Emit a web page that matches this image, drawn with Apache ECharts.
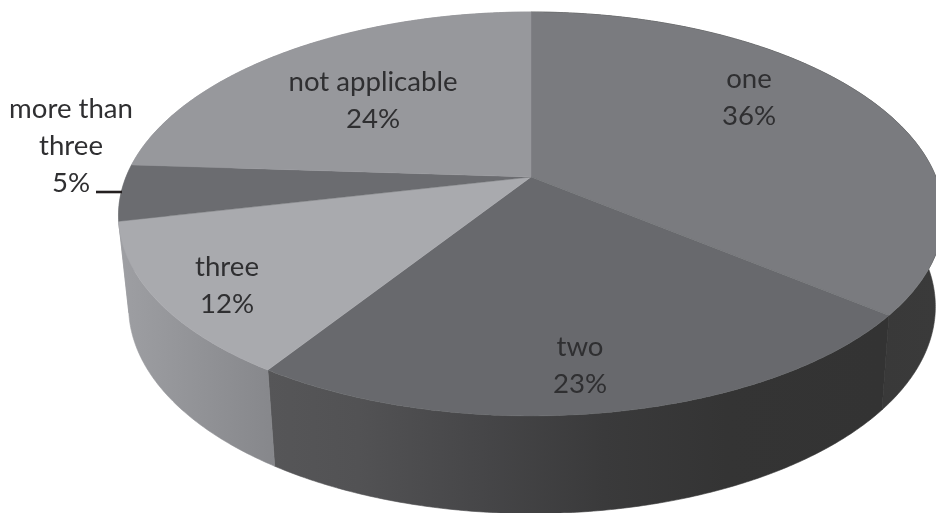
<!DOCTYPE html>
<html><head><meta charset="utf-8">
<style>html,body{margin:0;padding:0;background:#fff}#c{width:936px;height:513px}</style>
<script src="https://cdn.jsdelivr.net/npm/echarts@6/dist/echarts.min.js"></script>
</head><body><div id="c"></div>
<script>
const categories = ['one', 'two', 'three', 'more than\nthree', 'not applicable'];
const percents = [35.8, 23.4, 12.3, 4.5, 24];
const topColors = ['#7a7b7f', '#68696d', '#a9aaae', '#6b6c70', '#97989c'];

const KX = 0.19, KY = 0.183;
const TOP = {cx: 531, cy: 177, a: 405, b: 195.2};
const BOTTOM = {cx: 532, cy: 267, a: 396, b: 201.4};
const LABEL_POS = [[749, 98], [580, 366], [227, 286], [71, 146], [373, 101]];

function project(p, deg) {
  const r = deg * Math.PI / 180, x = Math.sin(r), y = -Math.cos(r);
  return [p.cx + p.a * x / (1 - KX * y), p.cy + p.b * y / (1 - KY * y)];
}
function arc(p, from, to) {
  const pts = [], n = Math.max(2, Math.ceil((to - from) * 2));
  for (let i = 0; i <= n; i++) pts.push(project(p, from + (to - from) * i / n));
  return pts;
}
function sideFill(i) {
  const stops = i === 0
    ? [[0, '#343434'], [0.8, '#343434'], [0.82, '#393939'], [1, '#3a3a3a']]
    : i === 1
    ? [[0, '#565658'], [0.15, '#525254'], [0.35, '#464648'], [0.55, '#3a3a3b'], [0.75, '#343434'], [1, '#333333']]
    : [[0, '#9e9fa3'], [0.5, '#929397'], [1, '#86878b']];
  const range = i === 0 ? [640, 936] : i === 1 ? [267, 880] : [118, 275];
  return new echarts.graphic.LinearGradient(range[0], 0, range[1], 0,
    stops.map(s => ({offset: s[0], color: s[1]})), true);
}
const total = percents.reduce((a, b) => a + b, 0);

const chart = echarts.init(document.getElementById('c'), null, {renderer: 'canvas'});
chart.setOption({
  animation: false,
  backgroundColor: '#ffffff',
  series: [{
    type: 'custom',
    coordinateSystem: 'none',
    silent: true,
    data: percents.map((v, i) => [i, v]),
    renderItem: function (params, api) {
      const i = api.value(0), v = api.value(1);
      let before = 0;
      for (let k = 0; k < i; k++) before += percents[k];
      const from = before / total * 360, to = (before + v) / total * 360;
      const topArc = arc(TOP, from, to), botArc = arc(BOTTOM, from, to);
      const children = [];
      children.push({
        type: 'polygon', z2: 1,
        shape: {points: topArc.concat(botArc.slice().reverse())},
        style: {fill: sideFill(i), stroke: sideFill(i), lineWidth: 0.6}
      });
      children.push({
        type: 'polygon', z2: 2,
        shape: {points: [[TOP.cx, TOP.cy]].concat(topArc)},
        style: {fill: topColors[i], stroke: topColors[i], lineWidth: 0.4}
      });
      children.push({
        type: 'text', z2: 4,
        style: {
          x: LABEL_POS[i][0], y: LABEL_POS[i][1],
          text: categories[i] + '\n' + Math.round(v) + '%',
          align: 'center', verticalAlign: 'middle',
          font: '27.6px Lato', lineHeight: 37, fill: '#2f2f31'
        }
      });
      if (i === 3) {
        children.push({
          type: 'line', z2: 3,
          shape: {x1: 96, y1: 192, x2: 122, y2: 192},
          style: {stroke: '#231f20', lineWidth: 2.6}
        });
      }
      return {type: 'group', children};
    }
  }]
});
</script></body></html>
